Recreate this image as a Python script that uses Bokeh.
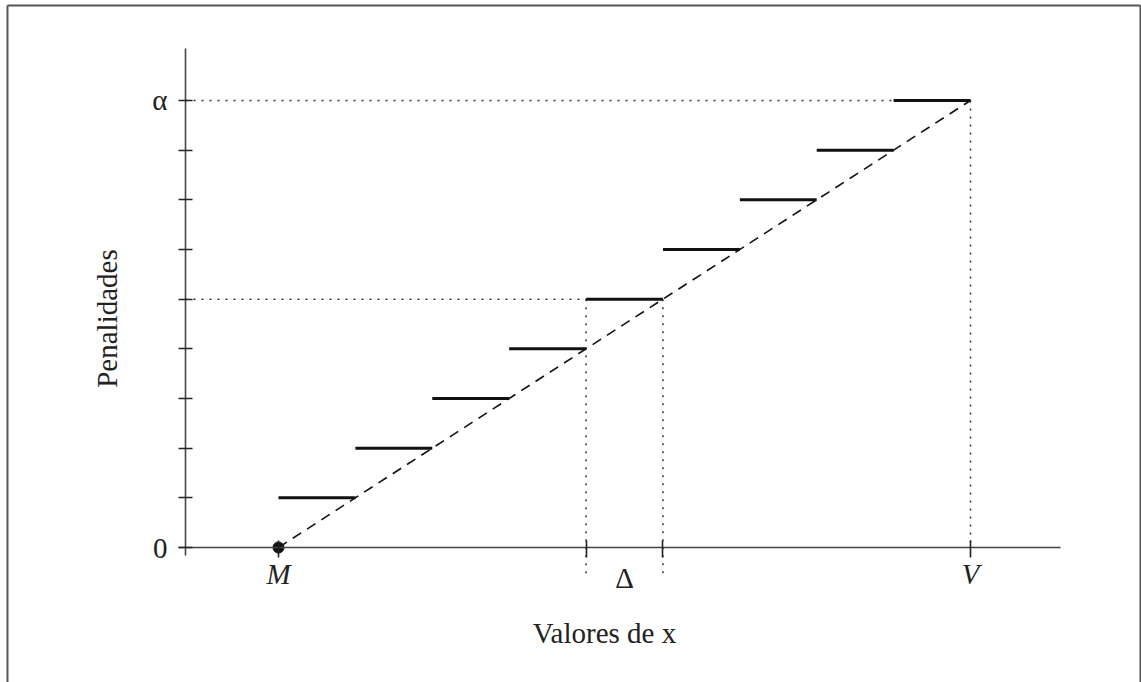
from bokeh.plotting import figure
from bokeh.models import FixedTicker, Range1d
from bokeh.core.properties import value
from bokeh.embed import file_html
from bokeh.resources import INLINE

# ---- data ----
levels = [1, 2, 3, 4, 5, 6, 7, 8, 9]          # penalty steps (alpha = 9)
step_start = [1, 2, 3, 4, 5, 6, 7, 8, 9]      # x where each step starts
step_end = [2, 3, 4, 5, 6, 7, 8, 9, 10]       # x where each step ends
M_x = 1
V_x = 10
delta_lo = 5
delta_hi = 6
alpha_level = 9
y_ticks = [0, 1, 2, 3, 4, 5, 6, 7, 8, 9]
y_tick_labels = {0: "0", 9: "\u03b1"}
x_ticks = [1, 5, 6, 10]
x_tick_labels = {1: "M", 5: "", 6: "", 10: "V"}

FONT = value("Liberation Serif")
FS = "29px"

p = figure(width=1141, height=682, output_backend="svg", toolbar_location=None,
           x_range=Range1d(-2.6156, 12.224), y_range=Range1d(-2.718, 11.013),
           min_border=0, outline_line_color=None,
           background_fill_color="white", border_fill_color="white")
p.grid.visible = False

axis_x = -0.2095   # position of the vertical axis (in x units)

# y axis
ya = p.yaxis[0]
ya.fixed_location = axis_x
ya.bounds = (-0.16, 10.05)
ya.ticker = FixedTicker(ticks=y_ticks)
ya.major_label_overrides = {t: y_tick_labels.get(t, "") for t in y_ticks}
ya.major_tick_in = 7
ya.major_tick_out = 7
ya.minor_tick_line_color = None
ya.axis_line_color = "#444"
ya.axis_line_width = 1.6
ya.major_tick_line_color = "#222"
ya.major_tick_line_width = 1.6
ya.major_label_text_font = "Liberation Serif"
ya.major_label_text_font_size = FS
ya.major_label_text_color = "#222"
ya.major_label_standoff = 11
ya.major_label_orientation = "horizontal"

# x axis
xa = p.xaxis[0]
xa.fixed_location = 0
xa.bounds = (-0.30, 11.17)
xa.ticker = FixedTicker(ticks=x_ticks)
xa.major_label_overrides = {t: x_tick_labels[t] for t in x_ticks}
xa.major_tick_in = 7
xa.major_tick_out = 10
xa.minor_tick_line_color = None
xa.axis_line_color = "#444"
xa.axis_line_width = 1.6
xa.major_tick_line_color = "#222"
xa.major_tick_line_width = 1.6
xa.major_label_text_font = "Liberation Serif"
xa.major_label_text_font_size = FS
xa.major_label_text_font_style = "italic"
xa.major_label_text_color = "#222"
xa.major_label_standoff = 0

# dotted guide lines
dot = dict(line_color="#333", line_width=1.5, line_dash="2 6")
p.segment(x0=[axis_x, axis_x], y0=[alpha_level, levels[4]],
          x1=[V_x, delta_lo], y1=[alpha_level, levels[4]], **dot)
p.segment(x0=[delta_lo, delta_hi, V_x], y0=[levels[4], levels[4], alpha_level],
          x1=[delta_lo, delta_hi, V_x], y1=[-0.56, -0.56, 0], **dot)

# dashed diagonal
p.line(x=[M_x, V_x], y=[0, alpha_level], line_color="#111", line_width=1.6, line_dash="10 7")

# steps
p.segment(x0=step_start, y0=levels, x1=step_end, y1=levels, line_color="#111", line_width=3)

# point M
p.scatter(x=[M_x], y=[0], size=11, color="#111")

# Delta label
p.text(x=[(delta_lo + delta_hi) / 2], y=[-0.3], text=["\u0394"], text_font=FONT,
       text_font_size=FS, text_align="center", text_baseline="top", text_color="#222")

# axis titles
p.text(x=[5.24], y=[-1.73], text=["Valores de x"], text_font=FONT, text_font_size=FS,
       text_align="center", text_baseline="middle", text_color="#222")
p.text(x=[-1.224], y=[4.61], text=["Penalidades"], text_font=FONT, text_font_size=FS,
       text_align="center", text_baseline="middle", angle=1.5708, text_color="#222")

# outer frame (left, top, right)
xr, yr = p.x_range, p.y_range
left, right, top = -2.5246, 12.211, 10.912
p.segment(x0=[left, left, right], y0=[yr.start, top, yr.start],
          x1=[left, right, right], y1=[top, top, top],
          line_color="#555", line_width=2)

open("out.html", "w").write(file_html(p, INLINE))
